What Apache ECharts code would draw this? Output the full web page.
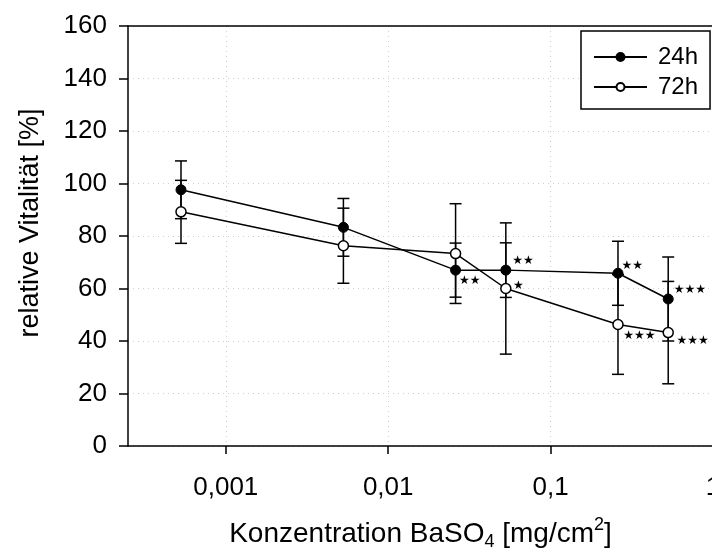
<!DOCTYPE html>
<html>
<head>
<meta charset="utf-8">
<script src="https://cdn.jsdelivr.net/npm/echarts@6/dist/echarts.min.js"></script>
<style>
  html, body { margin: 0; padding: 0; background: #fff; }
  #chart { width: 712px; height: 553px; }
</style>
</head>
<body>
<div id="chart"></div>
<script>
// concentration in mg/cm2 (log axis)
const concentrations = [0.00053, 0.0053, 0.026, 0.053, 0.26, 0.53];
const vitality24 = [97.6, 83.3, 67, 67, 65.8, 56];
const sd24 = [11, 11, 10.3, 10.4, 12.2, 16];
const vitality72 = [89.2, 76.3, 73.3, 60, 46.3, 43.2];
const sd72 = [12, 14.3, 19, 25, 19, 19.5];
const stars24 = ['', '', '**', '**', '**', '***'];
const stars72 = ['', '', '', '*', '***', '***'];
const xTicks = [0.001, 0.01, 0.1, 1];

// label offsets (px from the marker centre)
const starPos24 = [[0, 0], [0, 0], [4, 11], [7, -9], [4, -7], [6, -9]];
const starPos72 = [[0, 0], [0, 0], [0, 0], [8, -2], [6, 12], [9, 9]];

const FONT = 'Liberation Sans, Arial, sans-serif';
const chart = echarts.init(document.getElementById('chart'));

function lineData(vals, stars, pos) {
  return vals.map((v, i) => ({
    value: [concentrations[i], v],
    label: {
      show: !!stars[i],
      formatter: stars[i].replace(/\*/g, '★'),
      position: [pos[i][0] + 5, pos[i][1] + 5],
      align: 'left',
      verticalAlign: 'middle'
    }
  }));
}

function errData(vals, sds) {
  return vals.map((v, i) => [concentrations[i], v - sds[i], v + sds[i]]);
}

function renderError(params, api) {
  const x = api.value(0);
  const lo = api.coord([x, api.value(1)]);
  const hi = api.coord([x, api.value(2)]);
  const w = 6;
  const style = { stroke: '#000', lineWidth: 1.5 };
  return {
    type: 'group',
    children: [
      { type: 'line', shape: { x1: lo[0], y1: lo[1], x2: hi[0], y2: hi[1] }, style },
      { type: 'line', shape: { x1: lo[0] - w, y1: lo[1], x2: lo[0] + w, y2: lo[1] }, style },
      { type: 'line', shape: { x1: hi[0] - w, y1: hi[1], x2: hi[0] + w, y2: hi[1] }, style }
    ]
  };
}

const gridDots = { color: '#cfcfcf', type: [1, 4], width: 1 };

const option = {
  animation: false,
  textStyle: { fontFamily: FONT, color: '#000' },
  grid: {
    left: 128,
    top: 26,
    width: 585,
    height: 420,
    outerBoundsMode: 'none',
    containLabel: false
  },
  legend: {
    data: ['24h', '72h'],
    orient: 'vertical',
    left: 581,
    top: 31,
    padding: [14, 12, 10, 12],
    itemGap: 6,
    itemWidth: 53,
    itemHeight: 10,
    borderColor: '#000',
    borderWidth: 1.5,
    backgroundColor: '#fff',
    textStyle: { fontFamily: FONT, fontSize: 24, color: '#000', padding: [0, 0, 0, 6] }
  },
  xAxis: [{
    type: 'log',
    logBase: 10,
    min: 0.00025,
    max: 1,
    name: 'Konzentration BaSO{sub|4} [mg/cm{sup|2}]',
    nameLocation: 'middle',
    nameGap: 70,
    nameTextStyle: {
      fontFamily: FONT,
      fontSize: 28,
      color: '#000',
      rich: {
        sub: { fontFamily: FONT, fontSize: 18, padding: [16, 0, 0, 0] },
        sup: { fontFamily: FONT, fontSize: 18, padding: [0, 0, 18, 0] }
      }
    },
    axisLine: { onZero: false, lineStyle: { color: '#000', width: 1.5 } },
    axisTick: { customValues: xTicks, length: 8, lineStyle: { color: '#000', width: 1.5 } },
    axisLabel: {
      customValues: xTicks,
      margin: 29,
      fontSize: 26,
      color: '#000',
      formatter: v => String(v).replace('.', ',')
    },
    splitLine: { show: true, lineStyle: gridDots }
  }, {
    type: 'log',
    logBase: 10,
    min: 0.00025,
    max: 1,
    position: 'top',
    z: 10,
    axisLine: { show: true, onZero: false, lineStyle: { color: '#000', width: 1.5 } },
    axisTick: { show: false },
    axisLabel: { show: false },
    splitLine: { show: false }
  }],
  yAxis: {
    type: 'value',
    min: 0,
    max: 160,
    interval: 20,
    name: 'relative Vitalität [%]',
    nameLocation: 'middle',
    nameGap: 84,
    nameTextStyle: { fontFamily: FONT, fontSize: 27, color: '#000', padding: [0, 0, 0, 26] },
    axisLine: { show: true, lineStyle: { color: '#000', width: 1.5 } },
    axisTick: { show: true, length: 9, lineStyle: { color: '#000', width: 1.5 } },
    axisLabel: { margin: 21, fontSize: 26, color: '#000' },
    splitLine: { show: true, lineStyle: gridDots }
  },
  series: [
    {
      name: 'err24',
      type: 'custom',
      renderItem: renderError,
      data: errData(vitality24, sd24),
      z: 1,
      silent: true
    },
    {
      name: 'err72',
      type: 'custom',
      renderItem: renderError,
      data: errData(vitality72, sd72),
      z: 1,
      silent: true
    },
    {
      name: '24h',
      type: 'line',
      data: lineData(vitality24, stars24, starPos24),
      symbol: 'circle',
      symbolSize: 10,
      z: 3,
      lineStyle: { color: '#000', width: 1.5 },
      itemStyle: { color: '#000', borderColor: '#000', borderWidth: 1 },
      label: { fontSize: 12, color: '#000', fontFamily: 'DejaVu Sans' }
    },
    {
      name: '72h',
      type: 'line',
      data: lineData(vitality72, stars72, starPos72),
      symbol: 'circle',
      symbolSize: 10,
      showAllSymbol: true,
      z: 4,
      lineStyle: { color: '#000', width: 1.5 },
      itemStyle: { color: '#fff', borderColor: '#000', borderWidth: 1.5 },
      label: { fontSize: 12, color: '#000', fontFamily: 'DejaVu Sans' }
    }
  ]
};

chart.setOption(option);
</script>
</body>
</html>
